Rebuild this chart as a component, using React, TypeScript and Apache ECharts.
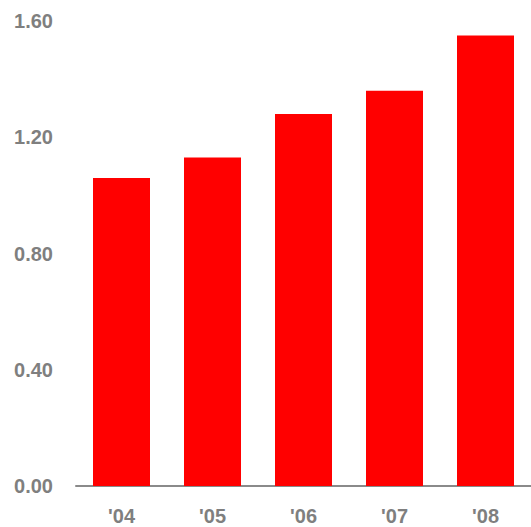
import React, { useEffect, useRef } from "react";
import * as echarts from "echarts";

const categories = ["'04", "'05", "'06", "'07", "'08"];
const values = [1.06, 1.13, 1.28, 1.36, 1.55];

export default function App() {
  const ref = useRef<HTMLDivElement>(null);
  useEffect(() => {
    if (!ref.current) return;
    const chart = echarts.init(ref.current, undefined, { renderer: "svg" });
    chart.setOption({
      animation: false,
      grid: { left: 76, right: 0, top: 21, bottom: 41, containLabel: false },
      xAxis: {
        type: "category",
        data: categories,
        axisLine: { show: true, lineStyle: { color: "#8a8a8a", width: 2 } },
        axisTick: { show: false },
        axisLabel: {
          color: "#7f7f7f",
          fontSize: 20,
          fontWeight: "bold",
          fontFamily: "Liberation Sans, Arial, sans-serif",
          margin: 20,
        },
      },
      yAxis: {
        type: "value",
        min: 0,
        max: 1.6,
        interval: 0.4,
        axisLine: { show: false },
        axisTick: { show: false },
        splitLine: { show: false },
        axisLabel: {
          color: "#7f7f7f",
          fontSize: 20,
          fontWeight: "bold",
          fontFamily: "Liberation Sans, Arial, sans-serif",
          margin: 23,
          formatter: (v: number) => v.toFixed(2),
        },
      },
      series: [
        {
          type: "bar",
          data: values,
          barWidth: 57,
          itemStyle: { color: "#ff0000" },
        },
      ],
    });
    return () => chart.dispose();
  }, []);
  return <div ref={ref} style={{ width: 531, height: 527, position: "absolute", left: 0, top: 0 }} />;
}
